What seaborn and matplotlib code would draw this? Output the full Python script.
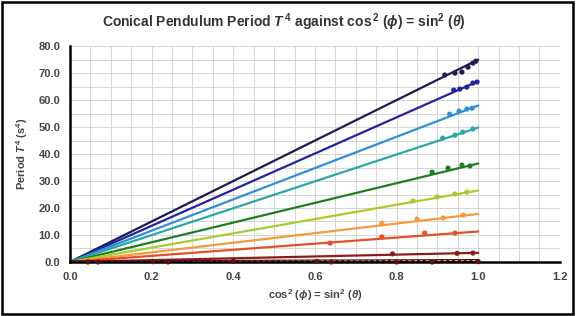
import numpy as np
import pandas as pd
import matplotlib
matplotlib.use("Agg")
import matplotlib.pyplot as plt
import seaborn as sns
from matplotlib.patches import Rectangle
from matplotlib.ticker import MultipleLocator

sns.set_style("white")
plt.rcParams["font.family"] = ["Liberation Sans", "DejaVu Sans"]
plt.rcParams["mathtext.fontset"] = "custom"
plt.rcParams["mathtext.rm"] = "Liberation Sans:bold"
plt.rcParams["mathtext.it"] = "Liberation Sans:italic:bold"
plt.rcParams["mathtext.bf"] = "Liberation Sans:bold"

# measured points, one list per string length (top to bottom)
x1 = [0.918, 0.943, 0.960, 0.975, 0.987, 0.994]
y1 = [69.3, 70.0, 70.4, 72.2, 73.7, 74.4]
x2 = [0.940, 0.955, 0.972, 0.987, 0.997]
y2 = [63.7, 64.1, 64.8, 66.3, 66.7]
x3 = [0.930, 0.953, 0.972, 0.985]
y3 = [54.8, 55.9, 56.7, 57.0]
x4 = [0.913, 0.943, 0.962, 0.987]
y4 = [45.9, 47.0, 48.1, 49.3]
x5 = [0.887, 0.926, 0.960, 0.980]
y5 = [33.3, 34.8, 35.9, 35.6]
x6 = [0.840, 0.899, 0.943, 0.972]
y6 = [22.6, 24.1, 25.2, 25.9]
x7 = [0.764, 0.850, 0.914, 0.963]
y7 = [14.4, 15.9, 16.3, 17.4]
x8 = [0.637, 0.764, 0.869, 0.943]
y8 = [7.0, 9.3, 10.7, 10.7]
x9 = [0.790, 0.948, 0.987]
y9 = [3.0, 3.2, 3.3]
x10 = [0.044, 0.069, 0.203, 0.240, 0.400, 0.605, 0.640, 0.800, 0.887, 1.000]
y10 = [0.0, 0.0, 0.1, 0.0, 0.2, 0.2, 0.0, 0.0, 0.0, 0.1]

# linear fits through origin (value at x = 1)
slopes = [75.0, 67.0, 58.0, 49.8, 36.5, 26.5, 17.8, 11.3, 3.4, 0.5]
fit_x = [0.0, 1.0]

colors = ["#1c1c52", "#2323a2", "#2e8fd6", "#2aa7a7", "#1f7d22",
          "#a6cc2e", "#f59a3a", "#e2522a", "#8c1c1c", "#5c1010"]

xs = [x1, x2, x3, x4, x5, x6, x7, x8, x9, x10]
ys = [y1, y2, y3, y4, y5, y6, y7, y8, y9, y10]
names = [f"s{i + 1}" for i in range(len(xs))]

pts = pd.concat([pd.DataFrame({"x": x, "y": y, "series": n})
                 for x, y, n in zip(xs, ys, names)], ignore_index=True)
fits = pd.concat([pd.DataFrame({"x": fit_x, "y": [s * v for v in fit_x], "series": n})
                  for s, n in zip(slopes, names)], ignore_index=True)
pal = dict(zip(names, colors))

fig = plt.figure(figsize=(5.76, 3.16), dpi=100)
ax = fig.add_axes([0.1215, 0.171, 0.8505, 0.683])

sns.lineplot(data=fits[fits.series != "s10"], x="x", y="y", hue="series",
             palette=pal, linewidth=1.6, legend=False, ax=ax)
sns.lineplot(data=fits[fits.series == "s10"], x="x", y="y", color=colors[9],
             linewidth=2.4, legend=False, ax=ax)
sns.lineplot(data=fits[fits.series == "s10"], x="x", y="y", color="#f0d0d0",
             linewidth=0.7, dashes=(3, 3), legend=False, ax=ax)
sns.scatterplot(data=pts, x="x", y="y", hue="series", palette=pal, s=14,
                marker="o", edgecolor="none", legend=False, ax=ax, clip_on=False, zorder=4)

ax.set_xlim(0, 1.2)
ax.set_ylim(0, 80)
ax.xaxis.set_major_locator(MultipleLocator(0.2))
ax.xaxis.set_minor_locator(MultipleLocator(0.05))
ax.yaxis.set_major_locator(MultipleLocator(10))
ax.yaxis.set_minor_locator(MultipleLocator(5))
ax.xaxis.set_major_formatter(matplotlib.ticker.FormatStrFormatter("%.1f"))
ax.yaxis.set_major_formatter(matplotlib.ticker.FormatStrFormatter("%.1f"))
ax.grid(True, which="both", color="#cfcfcf", linewidth=0.6)
ax.set_axisbelow(True)
for side in ["top", "right"]:
    ax.spines[side].set_visible(False)
for side in ["left", "bottom"]:
    ax.spines[side].set_color("black")
    ax.spines[side].set_linewidth(1.8)
ax.tick_params(axis="both", which="major", direction="out", length=3, width=1.2,
               color="black", labelsize=8, labelcolor="#444444", pad=4)
ax.tick_params(axis="both", which="minor", length=0)
for lab in ax.get_xticklabels() + ax.get_yticklabels():
    lab.set_fontweight("bold")

ax.set_xlabel(r"cos$^{2}$ ($\phi$) = sin$^{2}$ ($\theta$)", fontsize=8,
              fontweight="bold", color="#444444", labelpad=4)
ax.set_ylabel(r"Period $T^{4}$ (s$^{4}$)", fontsize=8, fontweight="bold",
              color="#444444", labelpad=6)
fig.text(0.492, 0.93, r"Conical Pendulum Period $T^{\,4}$ against cos$^{\,2}$ ($\phi$) = sin$^{2}$ ($\theta$)",
         ha="center", va="center", fontsize=10, fontweight="bold", color="#333333")

fig.patches.append(Rectangle((0.004, 0.006), 0.99, 0.988, transform=fig.transFigure,
                             fill=False, edgecolor="black", linewidth=1.8))

fig.savefig("out.png", dpi=100)
